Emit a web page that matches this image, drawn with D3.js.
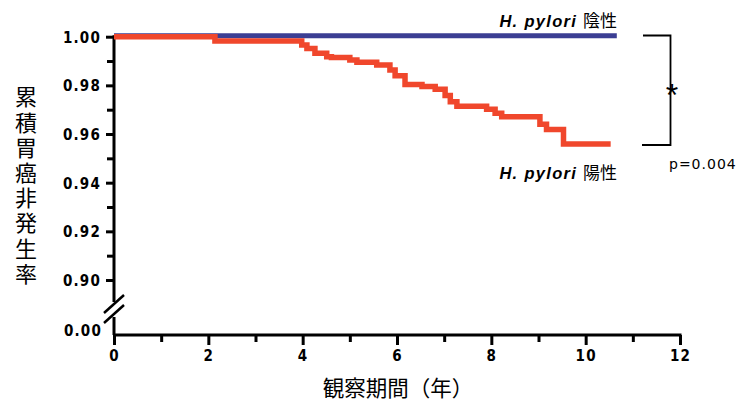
<!DOCTYPE html>
<html>
<head>
<meta charset="utf-8">
<script src="https://cdn.jsdelivr.net/npm/d3@7"></script>
<style>
  body { margin: 0; background: #fff; }
  .num { font-family: "DejaVu Sans Condensed", "Liberation Sans Narrow", sans-serif; font-weight: bold; font-size: 15px; letter-spacing: 1.2px; fill: #000; }
  .jp { font-family: "Noto Sans CJK JP", sans-serif; fill: #000; }
</style>
</head>
<body>
<svg width="756" height="406"></svg>
<script>
// follow-up time (years) and survival for the two groups
let posTimes = [0, 2.14, 3.98, 4.09, 4.26, 4.51, 4.61, 5.00, 5.15, 5.57, 5.85, 5.96, 6.17, 6.53, 6.81, 7.02, 7.13, 7.27, 7.90, 8.08, 8.22, 9.03, 9.17, 9.53, 10.53];
let posValues = [1.000, 0.9982, 0.9966, 0.9952, 0.9932, 0.9918, 0.9914, 0.9904, 0.9895, 0.9884, 0.9863, 0.9840, 0.9804, 0.9795, 0.9784, 0.9758, 0.9733, 0.9714, 0.9702, 0.9685, 0.9671, 0.9640, 0.9619, 0.9559, 0.9559];
let negTimes = [0, 10.66];
let negValues = [1.00, 1.00];

let yMajor = [0.90, 0.92, 0.94, 0.96, 0.98, 1.00];
let yMinor = [0.91, 0.93, 0.95, 0.97, 0.99];
let xMajor = [0, 2, 4, 6, 8, 10, 12];
let xMinor = [1, 3, 5, 7, 9, 11];

let svg = d3.select("svg");

let xScale = d3.scaleLinear().domain([0, 12]).range([114, 680]);
let yScale = d3.scaleLinear().domain([0.90, 1.00]).range([280, 36.7]);
let y0 = 335; // position of 0.00 below the break

// x axis
let xAxisG = svg.append("g").attr("transform", `translate(0, ${y0})`);
xAxisG.call(d3.axisBottom(xScale).tickValues(xMajor).tickSize(10).tickPadding(5).tickFormat(d3.format("d")));
let xMinorG = svg.append("g").attr("transform", `translate(0, ${y0})`);
xMinorG.call(d3.axisBottom(xScale).tickValues(xMinor).tickSize(7).tickFormat(""));
xMinorG.select(".domain").remove();
xAxisG.select(".domain").attr("d", `M${xScale(0)},0H${xScale(12) + 1.5}`);

// y axis (upper part)
let yAxisG = svg.append("g").attr("transform", `translate(${xScale(0)}, 0)`);
yAxisG.call(d3.axisLeft(yScale).tickValues(yMajor).tickSize(8).tickPadding(5).tickFormat(d3.format(".2f")));
yAxisG.select(".domain").attr("d", `M0,${yScale(1.0) - 1.5}V302`);
let yMinorG = svg.append("g").attr("transform", `translate(${xScale(0)}, 0)`);
yMinorG.call(d3.axisLeft(yScale).tickValues(yMinor).tickSize(7).tickFormat(""));
yMinorG.select(".domain").remove();

[xAxisG, xMinorG, yAxisG, yMinorG].forEach(g => {
  g.selectAll("line").attr("stroke", "#000").attr("stroke-width", 3);
  g.selectAll(".domain").attr("stroke", "#000").attr("stroke-width", 3);
  g.selectAll("text").attr("class", "num").attr("font-size", null).attr("font-family", null);
});
yAxisG.selectAll("text").attr("dy", "0.36em");

// lower part of y axis below the break
svg.append("line")
  .attr("x1", xScale(0)).attr("x2", xScale(0))
  .attr("y1", 317).attr("y2", y0)
  .attr("stroke", "#000").attr("stroke-width", 3);
svg.append("text").attr("class", "num")
  .attr("x", xScale(0) - 12).attr("y", y0 - 4)
  .attr("text-anchor", "end").attr("dy", "0.36em")
  .text("0.00");

// break marks
[[313, 295], [323, 305]].forEach(([a, b]) => {
  svg.append("line")
    .attr("x1", 104).attr("y1", a).attr("x2", 124).attr("y2", b)
    .attr("stroke", "#000").attr("stroke-width", 2.5);
});

// survival curves
let line = d3.line()
  .x(d => xScale(d[0]))
  .y(d => yScale(d[1]))
  .curve(d3.curveStepAfter);

svg.append("path")
  .datum(d3.zip(negTimes, negValues))
  .attr("d", line)
  .attr("fill", "none")
  .attr("stroke", "#3b3e93")
  .attr("stroke-width", 5)
  .attr("transform", "translate(0,-1)");

svg.append("path")
  .datum(d3.zip(posTimes, posValues))
  .attr("d", line)
  .attr("fill", "none")
  .attr("stroke", "#f0472c")
  .attr("stroke-width", 5.5);

// group labels
function groupLabel(y, suffix) {
  let t = svg.append("text").attr("x", 617).attr("y", y).attr("text-anchor", "end");
  t.append("tspan")
    .attr("font-family", "Liberation Sans, Arial, sans-serif")
    .attr("font-weight", "bold").attr("font-style", "italic")
    .attr("font-size", 16.5).attr("letter-spacing", 1.3)
    .text("H. pylori ");
  t.append("tspan").attr("class", "jp").attr("font-size", 17).text(suffix);
}
groupLabel(27, "陰性");
groupLabel(179, "陽性");

// significance bracket
svg.append("path")
  .attr("d", "M643,35.5H670.5V145H642")
  .attr("fill", "none").attr("stroke", "#000").attr("stroke-width", 1.8);
svg.append("text")
  .attr("x", 672).attr("y", 106)
  .attr("text-anchor", "middle")
  .attr("font-family", "Liberation Sans, Arial, sans-serif")
  .attr("font-size", 32)
  .text("*");
svg.append("text")
  .attr("x", 669).attr("y", 169)
  .attr("font-family", "DejaVu Sans, sans-serif")
  .attr("font-size", 14)
  .attr("letter-spacing", 1)
  .text("p=0.004");

// axis titles
svg.append("text")
  .attr("class", "jp")
  .attr("font-size", 22)
  .attr("x", 26)
  .attr("y", 86)
  .attr("letter-spacing", 3.2)
  .style("writing-mode", "vertical-rl")
  .text("累積胃癌非発生率");

svg.append("text")
  .attr("class", "jp")
  .attr("font-size", 21.5)
  .attr("x", 398).attr("y", 396)
  .attr("text-anchor", "middle")
  .text("観察期間（年）");
</script>
</body>
</html>
